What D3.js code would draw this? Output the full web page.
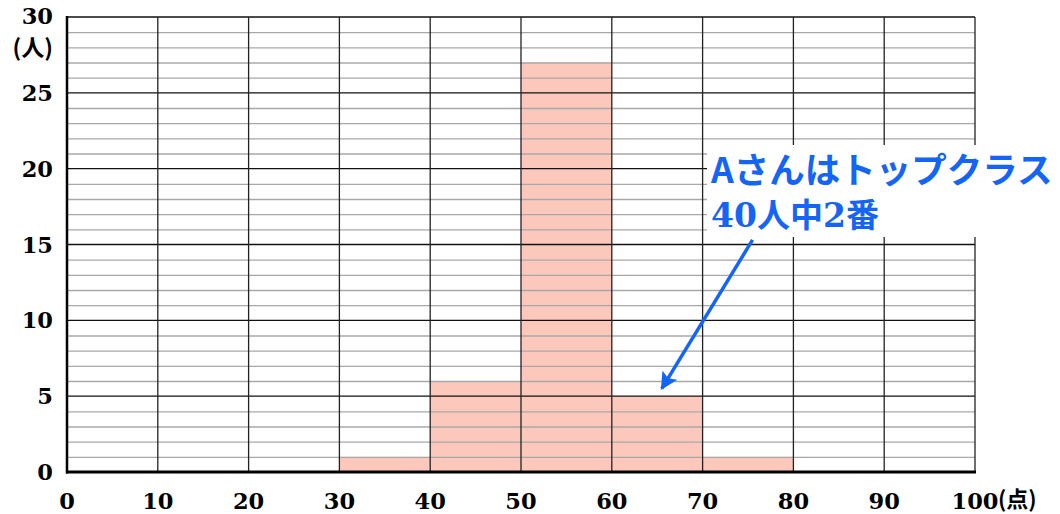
<!DOCTYPE html>
<html><head><meta charset="utf-8">
<script src="https://cdn.jsdelivr.net/npm/d3@7"></script>
<style>body{margin:0;background:#fff}svg{display:block}</style>
</head><body><svg id="c" width="1060" height="514"></svg>
<script>
const binStarts = [0,10,20,30,40,50,60,70,80,90];
const counts    = [0,0,0,1,6,27,5,1,0,0];
const xTicks = [0,10,20,30,40,50,60,70,80,90,100];
const yTicks = [0,5,10,15,20,25,30];
const yUnit = "(人)", xUnit = "(点)";
const note1 = "Aさんはトップクラス";
const note2 = ["40","人中","2","番"];
const arrowFrom = [75.5, 15.3], arrowTo = [65.5, 5.5];

const svg = d3.select("#c");
const x = d3.scaleLinear().domain([0,100]).range([67,975]);
const y = d3.scaleLinear().domain([0,30]).range([472,17]);
const serif = "'DejaVu Serif', serif";
const jp = "'Noto Sans CJK JP', sans-serif";

svg.append("g").selectAll("rect").data(binStarts.map((s,i)=>({s,c:counts[i]})).filter(d=>d.c>0))
  .join("rect").attr("x",d=>x(d.s)).attr("width",d=>x(d.s+10)-x(d.s))
  .attr("y",d=>y(d.c)).attr("height",d=>y(0)-y(d.c)).attr("fill","#fdc8bc");

const g = svg.append("g");
g.selectAll("line.mi").data(d3.range(1,30).filter(v=>v%5)).join("line")
  .attr("x1",x(0)).attr("x2",x(100)).attr("y1",d=>y(d)+0.5).attr("y2",d=>y(d)+0.5)
  .attr("stroke","#a8a8a8").attr("stroke-width",1.3);
g.selectAll("line.ma").data(yTicks.filter(v=>v>0)).join("line")
  .attr("x1",x(0)).attr("x2",x(100)).attr("y1",d=>y(d)).attr("y2",d=>y(d))
  .attr("stroke","#111").attr("stroke-width",1.3);
g.selectAll("line.v").data(xTicks.filter(v=>v>0)).join("line")
  .attr("x1",d=>x(d)).attr("x2",d=>x(d)).attr("y1",y(30)).attr("y2",y(0))
  .attr("stroke","#222").attr("stroke-width",1.3);
svg.append("line").attr("x1",x(0)).attr("x2",x(0)).attr("y1",y(30)-1).attr("y2",y(0)+1.5)
  .attr("stroke","#000").attr("stroke-width",2.5);
svg.append("line").attr("x1",x(0)-1).attr("x2",x(100)+1).attr("y1",y(0)).attr("y2",y(0))
  .attr("stroke","#000").attr("stroke-width",3);

svg.append("g").selectAll("text").data(yTicks).join("text")
  .attr("x",53).attr("y",d=>y(d)+(d===30?7:8)).attr("text-anchor","end")
  .attr("font-family",serif).attr("font-weight","bold").attr("font-size",22.5)
  .text(d=>d);
svg.append("text").attr("x",53).attr("y",y(30)+39).attr("text-anchor","end")
  .attr("font-family",jp).attr("font-weight","bold").attr("font-size",23).text(yUnit);
svg.append("g").selectAll("text").data(xTicks).join("text")
  .attr("x",d=>x(d)).attr("y",509).attr("text-anchor","middle")
  .attr("font-family",serif).attr("font-weight","bold").attr("font-size",22.5)
  .text(d=>d);
svg.append("text").attr("x",x(100)+23).attr("y",507)
  .attr("font-family",jp).attr("font-weight","bold").attr("font-size",22).text(xUnit);

svg.append("rect").attr("x",707).attr("y",145).attr("width",353).attr("height",92).attr("fill","#fff");
const blue = "#1565f5";
svg.append("text").attr("x",711).attr("y",183).attr("fill",blue)
  .attr("font-family",jp).attr("font-weight","bold").attr("font-size",35.5).text(note1);
const t2 = svg.append("text").attr("x",711).attr("y",227).attr("fill",blue).attr("font-weight","bold").attr("font-size",33);
note2.forEach((s,i)=>t2.append("tspan").attr("font-family", i%2===0?serif:jp).text(s));

const defs = svg.append("defs");
defs.append("marker").attr("id","ah").attr("viewBox","0 0 10 10").attr("refX",9).attr("refY",5)
  .attr("markerWidth",5).attr("markerHeight",5).attr("orient","auto")
  .append("path").attr("d","M0,0 L10,5 L0,10 L2,5 Z").attr("fill",blue);
svg.append("line").attr("x1",x(arrowFrom[0])).attr("y1",y(arrowFrom[1]))
  .attr("x2",x(arrowTo[0])).attr("y2",y(arrowTo[1]))
  .attr("stroke",blue).attr("stroke-width",3.5).attr("marker-end","url(#ah)");
</script></body></html>
